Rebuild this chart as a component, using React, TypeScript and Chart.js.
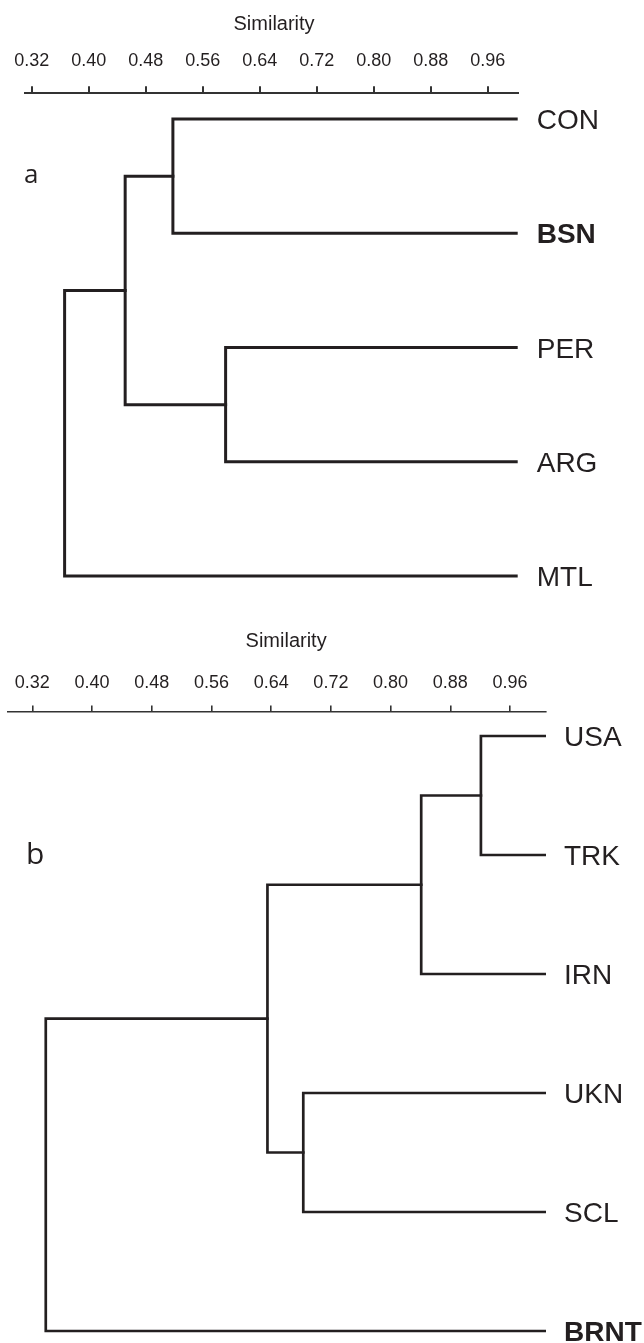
import React, { useEffect, useRef } from 'react';
import { Chart, registerables } from 'chart.js';

Chart.register(...registerables);

// ---------- data ----------
const tickValues = [0.32, 0.4, 0.48, 0.56, 0.64, 0.72, 0.8, 0.88, 0.96];
const tickLabels = ['0.32', '0.40', '0.48', '0.56', '0.64', '0.72', '0.80', '0.88', '0.96'];
const axisTitle = 'Similarity';

// Panel a
const leavesA = ['CON', 'BSN', 'PER', 'ARG', 'MTL'];
const boldLeavesA = ['BSN'];
// merges: ids < leaves.length are leaves, higher ids are earlier merges (in order)
const mergeLeftA = [0, 2, 5, 7];
const mergeRightA = [1, 3, 6, 4];
const mergeSimA = [0.518, 0.592, 0.451, 0.366];
const leafSimA = 1.002;

// Panel b
const leavesB = ['USA', 'TRK', 'IRN', 'UKN', 'SCL', 'BRNT'];
const boldLeavesB = ['BRNT'];
const mergeLeftB = [0, 6, 3, 7, 9];
const mergeRightB = [1, 2, 4, 8, 5];
const mergeSimB = [0.921, 0.841, 0.683, 0.635, 0.338];
const leafSimB = 1.008;

// ---------- layout / style ----------
const INK = '#231f20';
const AXIS = '#333333';
const SANS = '"Liberation Sans", Arial, Helvetica, sans-serif';
const LETTER_FONT = '"Open Sans", "Liberation Sans", sans-serif';

type PanelCfg = {
  letter: string;
  leaves: string[];
  bold: string[];
  left: number[];
  right: number[];
  sim: number[];
  leafSim: number;
  top: number;
  height: number;
  pad: { left: number; right: number; top: number; bottom: number };
  xMin: number;
  xMax: number;
  yMin: number;
  yMax: number;
  tickLen: number;
  tickPad: number;
  lineWidth: number;
  axisWidth: number;
  titleCenter: number;
  titleBaseline: number;
  labelGap: number;
  letterX: number;
  letterBaseline: number;
  letterSize: number;
};

const panelA: PanelCfg = {
  letter: 'a',
  leaves: leavesA,
  bold: boldLeavesA,
  left: mergeLeftA,
  right: mergeRightA,
  sim: mergeSimA,
  leafSim: leafSimA,
  top: 0,
  height: 600,
  pad: { left: 22, right: 126.3, top: 36.7, bottom: 10 },
  xMin: 0.3098,
  xMax: 1.002,
  yMin: -0.225,
  yMax: 4.1225,
  tickLen: 7,
  tickPad: 14,
  lineWidth: 3,
  axisWidth: 2,
  titleCenter: 0.66,
  titleBaseline: 30.3,
  labelGap: 19,
  letterX: 24,
  letterBaseline: 183,
  letterSize: 26,
};

const panelB: PanelCfg = {
  letter: 'b',
  leaves: leavesB,
  bold: boldLeavesB,
  left: mergeLeftB,
  right: mergeRightB,
  sim: mergeSimB,
  leafSim: leafSimB,
  top: 600,
  height: 743,
  pad: { left: 8, right: 98, top: 61.1, bottom: 5 },
  xMin: 0.2874,
  xMax: 1.0082,
  yMin: -0.206,
  yMax: 5.0588,
  tickLen: 6,
  tickPad: 11.4,
  lineWidth: 2.7,
  axisWidth: 1.6,
  titleCenter: 0.66,
  titleBaseline: 46.5,
  labelGap: 18,
  letterX: 26,
  letterBaseline: 264,
  letterSize: 30,
};

function buildSegments(cfg: PanelCfg) {
  const n = cfg.leaves.length;
  const nodeX: number[] = [];
  const nodeY: number[] = [];
  for (let i = 0; i < n; i++) {
    nodeX.push(cfg.leafSim);
    nodeY.push(i);
  }
  const datasets: any[] = [];
  cfg.sim.forEach((s, k) => {
    const a = cfg.left[k];
    const b = cfg.right[k];
    nodeX.push(s);
    nodeY.push((nodeY[a] + nodeY[b]) / 2);
    datasets.push({
      data: [
        { x: nodeX[a], y: nodeY[a] },
        { x: s, y: nodeY[a] },
        { x: s, y: nodeY[b] },
        { x: nodeX[b], y: nodeY[b] },
      ],
      showLine: true,
      pointRadius: 0,
      borderColor: INK,
      borderWidth: cfg.lineWidth,
      borderJoinStyle: 'miter',
      borderCapStyle: 'square',
      fill: false,
      tension: 0,
    });
  });
  return datasets;
}

function Panel({ cfg }: { cfg: PanelCfg }) {
  const ref = useRef<HTMLCanvasElement>(null);
  useEffect(() => {
    const canvas = ref.current;
    if (!canvas) return;
    const textPlugin = {
      id: 'dendroText',
      afterDraw(chart: any) {
        const ctx = chart.ctx;
        const xs = chart.scales.x;
        const ys = chart.scales.y;
        ctx.save();
        ctx.fillStyle = INK;
        ctx.textBaseline = 'alphabetic';
        // axis title
        ctx.font = `20px ${SANS}`;
        ctx.textAlign = 'center';
        ctx.fillText(axisTitle, xs.getPixelForValue(cfg.titleCenter), cfg.titleBaseline);
        // leaf labels
        ctx.textAlign = 'left';
        const size = 28;
        cfg.leaves.forEach((name, i) => {
          const isBold = cfg.bold.includes(name);
          ctx.font = `${isBold ? 'bold ' : ''}${size}px ${SANS}`;
          const y = ys.getPixelForValue(i);
          ctx.fillText(name, chart.chartArea.right + cfg.labelGap, y + 0.358 * size);
        });
        // panel letter
        ctx.font = `${cfg.letterSize}px ${LETTER_FONT}`;
        ctx.fillText(cfg.letter, cfg.letterX, cfg.letterBaseline);
        ctx.restore();
      },
    };

    const chart = new Chart(canvas, {
      type: 'scatter',
      data: { datasets: buildSegments(cfg) },
      options: {
        responsive: false,
        animation: false,
        events: [],
        layout: { padding: cfg.pad },
        plugins: { legend: { display: false }, tooltip: { enabled: false }, title: { display: false } },
        scales: {
          x: {
            type: 'linear',
            position: 'top',
            min: cfg.xMin,
            max: cfg.xMax,
            afterBuildTicks: (scale: any) => {
              scale.ticks = tickValues.map((v) => ({ value: v }));
            },
            ticks: {
              autoSkip: false,
              maxRotation: 0,
              padding: cfg.tickPad,
              color: INK,
              font: { family: SANS, size: 18 },
              callback: (_v: any, i: number) => tickLabels[i],
            },
            grid: {
              drawOnChartArea: false,
              drawTicks: true,
              tickLength: cfg.tickLen,
              color: AXIS,
              lineWidth: cfg.axisWidth,
            },
            border: { display: true, color: AXIS, width: cfg.axisWidth },
            title: { display: false },
          },
          y: {
            type: 'linear',
            display: false,
            reverse: true,
            min: cfg.yMin,
            max: cfg.yMax,
          },
        },
      },
      plugins: [textPlugin],
    } as any);
    return () => chart.destroy();
  }, [cfg]);
  return (
    <canvas
      ref={ref}
      width={644}
      height={cfg.height}
      style={{ position: 'absolute', left: 0, top: cfg.top, width: 644, height: cfg.height, display: 'block' }}
    />
  );
}

export default function App() {
  return (
    <div style={{ position: 'absolute', left: 0, top: 0, width: 644, height: 1343, background: '#ffffff', overflow: 'hidden' }}>
      <Panel cfg={panelA} />
      <Panel cfg={panelB} />
    </div>
  );
}
